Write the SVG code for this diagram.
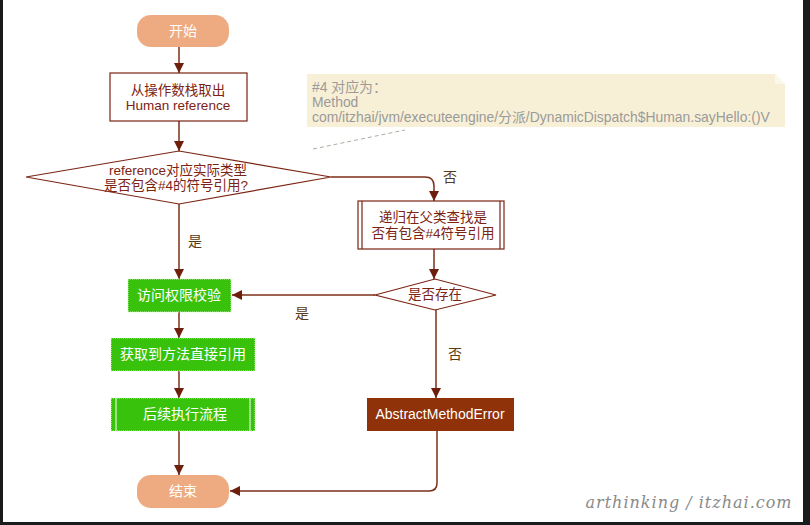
<svg xmlns="http://www.w3.org/2000/svg" width="810" height="525" viewBox="0 0 810 525">
<defs>
<marker id="arr" viewBox="0 0 10 10" refX="10" refY="5" markerWidth="10" markerHeight="10" markerUnits="userSpaceOnUse" orient="auto">
<path d="M0,0 L10,5 L0,10 z" fill="#6e1f0c"/>
</marker>
<style>
text{font-family:"Liberation Sans","Noto Sans CJK SC",sans-serif;font-size:14px;text-anchor:middle}
.term{fill:#eeaa80}
.termt{fill:#ffffff}
.proc{fill:#ffffff;stroke:#7b2413;stroke-width:1.2}
.dt{fill:#7b2413;font-size:13.5px}
.green{fill:#38c20c;stroke:#d8f5c8;stroke-width:1;stroke-dasharray:1 1}
.wt{fill:#ffffff}
.err{fill:#8f3209}
.conn path{fill:none;stroke:#7b2e18;stroke-width:1.5}
.lbl{fill:#5a3a14}
.note{fill:#f8f0d6}
.nt{fill:#9a9a9a;font-size:13.9px;text-anchor:start}
</style>
</defs>
<rect x="0" y="0" width="810" height="525" fill="#1a1b1d"/>
<rect x="3" y="0" width="800" height="522" fill="#ffffff"/>

<g id="note">
<path class="note" d="M307,74 L775,74 L785,84 L785,127 L307,127 z"/>
<path d="M775,74 L785,84 L775,84 z" fill="#fbf7ea"/>
<text class="nt" x="312" y="92">#4 对应为：</text>
<text class="nt" x="312" y="107">Method</text>
<text class="nt" x="312" y="122">com/itzhai/jvm/executeengine/分派/DynamicDispatch$Human.sayHello:()V</text>
<path d="M313,149 L405,130" stroke="#a8b0a0" stroke-width="1" stroke-dasharray="4 3" fill="none"/>
</g>

<g class="conn" id="connectors">
<path d="M179,47 L179,73" marker-end="url(#arr)"/>
<path d="M179,121 L179,151" marker-end="url(#arr)"/>
<path d="M179,204 L179,279" marker-end="url(#arr)"/>
<path d="M331,177 L425,177 Q434,177 434,186 L434,201" marker-end="url(#arr)"/>
<path d="M434,249 L434,279" marker-end="url(#arr)"/>
<path d="M375,295 L232,295" marker-end="url(#arr)"/>
<path d="M179,312 L179,338" marker-end="url(#arr)"/>
<path d="M179,371 L179,398" marker-end="url(#arr)"/>
<path d="M179,431 L179,475" marker-end="url(#arr)"/>
<path d="M436,309 L436,398" marker-end="url(#arr)"/>
<path d="M437,431 L437,483 Q437,491 429,491 L230,491" marker-end="url(#arr)"/>
<text class="lbl" x="195" y="246">是</text>
<text class="lbl" x="450" y="182">否</text>
<text class="lbl" x="302" y="318">是</text>
<text class="lbl" x="455" y="359">否</text>
</g>

<g id="start">
<rect class="term" x="137" y="15" width="92" height="32" rx="14"/>
<text class="termt" x="183" y="36">开始</text>
</g>

<g id="pop">
<rect class="proc" x="110" y="73" width="137" height="48"/>
<text class="dt" x="178" y="95">从操作数栈取出</text>
<text class="dt" x="178" y="110">Human reference</text>
</g>

<g id="decide1">
<path class="proc" d="M26,177 L179,151 L331,177 L179,204 z"/>
<text class="dt" x="178" y="175">reference对应实际类型</text>
<text class="dt" x="176" y="190">是否包含#4的符号引用?</text>
</g>

<g id="recurse">
<rect class="proc" x="358" y="201" width="146" height="48"/>
<path d="M362,201 L362,249 M500,201 L500,249" stroke="#7b2413" stroke-width="1.2"/>
<text class="dt" x="433" y="222">递归在父类查找是</text>
<text class="dt" x="433" y="238">否有包含#4符号引用</text>
</g>

<g id="decide2">
<path class="proc" d="M375,295 L435,279 L496,295 L435,310 z"/>
<text class="dt" x="435" y="299">是否存在</text>
</g>

<g id="access">
<rect class="green" x="128" y="279" width="103" height="33"/>
<text class="wt" x="179" y="300">访问权限校验</text>
</g>

<g id="getref">
<rect class="green" x="111" y="338" width="144" height="33"/>
<text class="wt" x="183" y="359">获取到方法直接引用</text>
</g>

<g id="follow">
<rect class="green" x="111" y="398" width="144" height="33"/>
<path d="M116,398 L116,431 M250,398 L250,431" stroke="#ffffff" stroke-width="1"/>
<text class="wt" x="185" y="419">后续执行流程</text>
</g>

<g id="error">
<rect class="err" x="367" y="398" width="147" height="33"/>
<text class="wt" x="440" y="419">AbstractMethodError</text>
</g>

<g id="end">
<rect class="term" x="137" y="475" width="92" height="33" rx="14"/>
<text class="termt" x="183" y="496">结束</text>
</g>

<text x="689" y="508" style="font-family:'DejaVu Serif',serif;font-style:italic;font-size:16px;fill:#8a8a8a;letter-spacing:1px">arthinking / itzhai.com</text>
</svg>
